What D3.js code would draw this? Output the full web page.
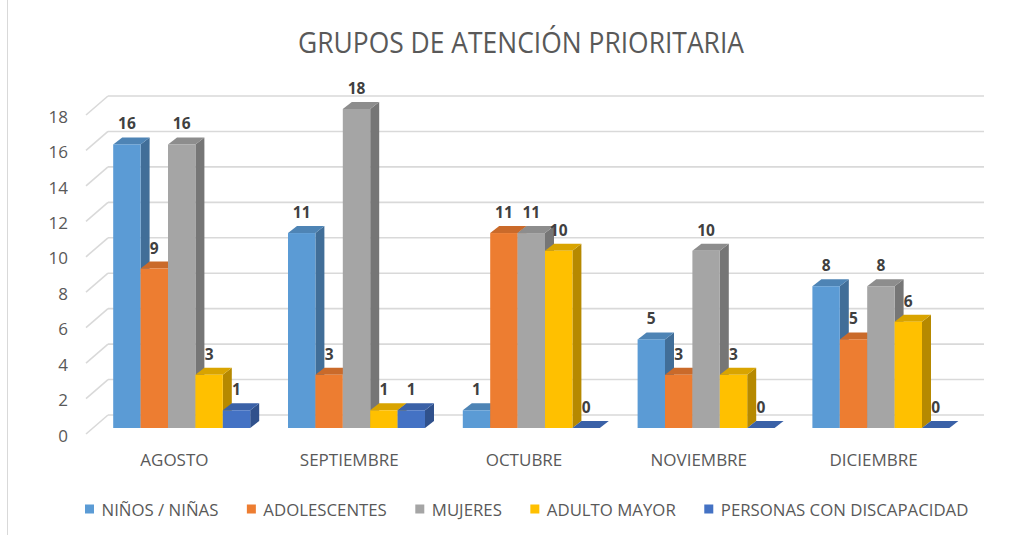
<!DOCTYPE html>
<html><head><meta charset="utf-8">
<script src="https://cdn.jsdelivr.net/npm/d3@7"></script>
<style>
html,body{margin:0;padding:0;background:#fff;}
svg{display:block;font-family:"Open Sans","Noto Sans",sans-serif;}
</style></head>
<body>
<svg id="chart" width="1022" height="535"></svg>
<script>
const title = "GRUPOS DE ATENCIÓN PRIORITARIA";
const months = ["AGOSTO","SEPTIEMBRE","OCTUBRE","NOVIEMBRE","DICIEMBRE"];
const seriesNames = ["NIÑOS / NIÑAS","ADOLESCENTES","MUJERES","ADULTO MAYOR","PERSONAS CON DISCAPACIDAD"];
const seriesColors = ["#5B9BD5","#ED7D31","#A5A5A5","#FFC000","#4472C4"];
const ninos = [16,11,1,5,8];
const adolescentes = [9,3,11,3,5];
const mujeres = [16,18,11,10,8];
const adultoMayor = [3,1,10,3,6];
const discapacidad = [1,1,0,0,0];
const yTicks = [0,2,4,6,8,10,12,14,16,18];

const seriesValues = [ninos, adolescentes, mujeres, adultoMayor, discapacidad];

const svg = d3.select("#chart");
const textColor = "#595959";
const gridColor = "#D9D9D9";

// chart border (left edge visible)
svg.append("line").attr("x1",7.5).attr("x2",7.5).attr("y1",0).attr("y2",535)
  .attr("stroke","#D9D9D9").attr("stroke-width",1);

// title
svg.append("text").attr("x",521).attr("y",53).attr("text-anchor","middle")
  .attr("font-size",29).attr("fill",textColor)
  .attr("textLength",446).attr("lengthAdjust","spacingAndGlyphs")
  .text(title);

// scales
const wallDX = 22, wallDY = -19;          // depth of floor / wall
const barDX = 8.3, barDY = -6;            // bar position inside depth
const sideDX = 9, sideDY = -7;            // bar depth
const y = d3.scaleLinear().domain([0,18]).range([434,115]);
const x = d3.scaleBand().domain(months).range([86,960]).paddingInner(0).paddingOuter(0);
const groupW = 137;
const xs = d3.scaleBand().domain(d3.range(seriesNames.length)).range([0,groupW]);

// gridlines: back wall + left wall diagonals
const grid = svg.append("g");
yTicks.forEach(t => {
  const yf = y(t);
  grid.append("line").attr("x1",86).attr("y1",yf).attr("x2",86+wallDX).attr("y2",yf+wallDY)
    .attr("stroke",gridColor).attr("stroke-width",1.6);
  grid.append("line").attr("x1",86+wallDX).attr("y1",yf+wallDY).attr("x2",960+wallDX+2).attr("y2",yf+wallDY)
    .attr("stroke",gridColor).attr("stroke-width",1.6);
  svg.append("text").attr("x",68).attr("y",yf+1.5).attr("dy","0.36em").attr("text-anchor","end")
    .attr("font-size",17).attr("fill",textColor).text(t);
});

// category labels
months.forEach(m => {
  svg.append("text").attr("x",x(m)+x.bandwidth()/2+1).attr("y",466).attr("text-anchor","middle")
    .attr("font-size",17).attr("fill",textColor).text(m);
});

// bars
const bars = svg.append("g");
const labels = svg.append("g");
months.forEach((m,mi) => {
  const gx = x(m) + (x.bandwidth()-groupW)/2 + barDX;
  seriesNames.forEach((s,si) => {
    const v = seriesValues[si][mi];
    const x0 = gx + xs(si), x1 = x0 + xs.bandwidth();
    const yb = y(0) + barDY, yt = y(v) + barDY;
    const c = d3.color(seriesColors[si]);
    const sideC = d3.color(seriesColors[si]).darker(0.95);
    const topC = d3.color(seriesColors[si]).darker(0.45);
    const g = bars.append("g");
    g.append("path").attr("d",`M${x1},${yb}L${x1+sideDX},${yb+sideDY}L${x1+sideDX},${yt+sideDY}L${x1},${yt}Z`)
      .attr("fill",sideC);
    g.append("path").attr("d",`M${x0},${yt}L${x1},${yt}L${x1+sideDX},${yt+sideDY}L${x0+sideDX},${yt+sideDY}Z`)
      .attr("fill",topC);
    if (v > 0) g.append("rect").attr("x",x0).attr("y",yt).attr("width",x1-x0).attr("height",yb-yt).attr("fill",c);
    labels.append("text").attr("x",(x0+x1)/2).attr("y",yt-15).attr("text-anchor","middle")
      .attr("font-size",15.5).attr("font-weight","bold").attr("fill","#404040").text(v);
  });
});

// legend
const leg = svg.append("g");
let lx = 85;
seriesNames.forEach((s,i) => {
  leg.append("rect").attr("x",lx).attr("y",504.5).attr("width",9).attr("height",9).attr("fill",seriesColors[i]);
  const t = leg.append("text").attr("x",lx+16.5).attr("y",516).attr("font-size",16.8).attr("fill",textColor).text(s);
  const w = t.node().getComputedTextLength();
  lx += 16.5 + w + 28.5;
});
</script>
</body></html>
